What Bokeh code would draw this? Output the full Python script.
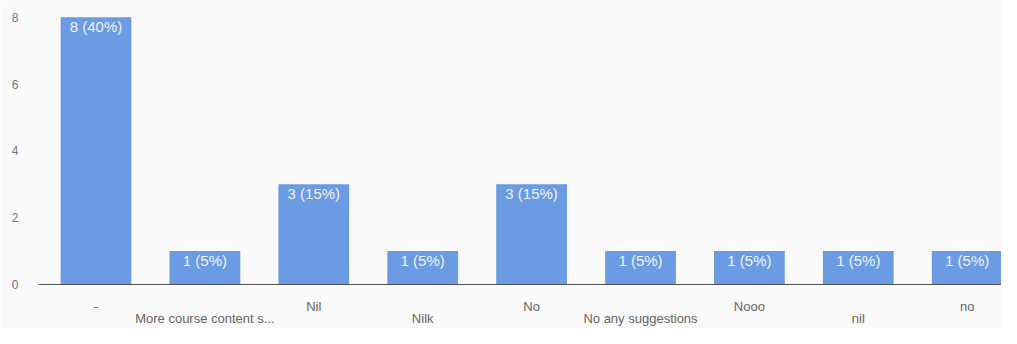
from bokeh.plotting import figure
from bokeh.models import Range1d, LinearAxis, FixedTicker, ColumnDataSource
from bokeh.core.properties import value
from bokeh.embed import file_html
from bokeh.resources import INLINE

categories = ["-", "More course content s...", "Nil", "Nilk", "No",
              "No any suggestions", "Nooo", "nil", "no"]
counts = [8, 1, 3, 1, 3, 1, 1, 1, 1]
labels = ["8 (40%)", "1 (5%)", "3 (15%)", "1 (5%)", "3 (15%)",
          "1 (5%)", "1 (5%)", "1 (5%)", "1 (5%)"]
y_ticks = [0, 2, 4, 6, 8]

xs = list(range(len(categories)))
src = ColumnDataSource(dict(x=xs, top=counts, label=labels))

BG = "#fafafa"
p = figure(width=1001, height=328, output_backend="svg", toolbar_location=None,
           x_range=Range1d(-0.528, 8.315), y_range=Range1d(0, 8.23),
           min_border_left=38, min_border_right=0, min_border_top=9,
           min_border_bottom=44, x_axis_location=None)
p.background_fill_color = BG
p.border_fill_color = BG
p.outline_line_color = None
p.xgrid.visible = False
p.ygrid.visible = False

p.vbar(x="x", top="top", width=0.65, bottom=0, source=src,
       fill_color="#6b9be3", line_color=None)
p.text(x="x", y="top", text="label", source=src, text_align="center",
       text_baseline="top", y_offset=1, text_color="#eef3fc",
       text_font=value("Liberation Sans"), text_font_size="15px")

# y axis
ya = p.yaxis[0]
ya.ticker = FixedTicker(ticks=y_ticks)
ya.axis_line_color = None
ya.major_tick_line_color = None
ya.minor_tick_line_color = None
ya.major_tick_out = 0
ya.major_tick_in = 0
ya.minor_tick_out = 0
ya.major_label_standoff = 20
ya.major_label_text_font = "Liberation Sans"
ya.major_label_text_font_size = "12px"
ya.major_label_text_color = "#777777"

# x axes: two staggered rows
even = [i for i in xs if i % 2 == 0]
odd = [i for i in xs if i % 2 == 1]


def make_axis(ticks, standoff, line_color):
    ax = LinearAxis(ticker=FixedTicker(ticks=ticks),
                    major_label_overrides={i: categories[i] for i in ticks})
    ax.axis_line_color = line_color
    ax.axis_line_width = 1.2
    ax.major_tick_line_color = None
    ax.minor_tick_line_color = None
    ax.major_tick_out = 0
    ax.major_tick_in = 0
    ax.minor_tick_out = 0
    ax.minor_tick_in = 0
    ax.major_label_standoff = standoff
    ax.major_label_text_font = "Liberation Sans"
    ax.major_label_text_font_size = "13px"
    ax.major_label_text_color = "#666666"
    return ax


ax1 = make_axis(even, 14, "#555555")
ax2 = make_axis(odd, -6, None)
p.add_layout(ax1, "below")
p.add_layout(ax2, "below")

open("out.html", "w").write(file_html(p, INLINE))
